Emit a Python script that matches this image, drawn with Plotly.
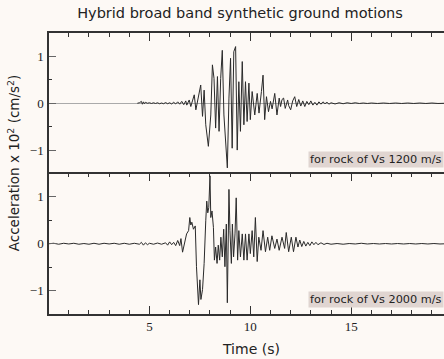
import plotly.graph_objects as go

# ---------------- data ----------------
t_top = [4.4, 4.5, 4.6, 4.65, 4.7, 4.75, 4.8, 4.9, 5.0, 5.1, 5.2, 5.3, 5.4, 5.5, 5.6, 5.7,
         5.8, 5.9, 6.0, 6.1, 6.2, 6.3, 6.4, 6.5, 6.6, 6.7, 6.8, 6.85, 6.97, 7.05, 7.13, 7.22,
         7.30, 7.38, 7.46, 7.54, 7.63, 7.71, 7.79, 7.92, 8.04, 8.12, 8.20, 8.28, 8.37, 8.45,
         8.53, 8.61, 8.69, 8.78, 8.86, 8.94, 9.02, 9.10, 9.18, 9.27, 9.35, 9.43, 9.51, 9.60,
         9.68, 9.76, 9.84, 9.93, 10.0, 10.09, 10.16, 10.22, 10.34, 10.43, 10.55, 10.63, 10.71,
         10.8, 10.9, 11.0, 11.08, 11.21, 11.32, 11.43, 11.5, 11.57, 11.65, 11.73, 11.85, 11.9,
         12.0, 12.1, 12.2, 12.3, 12.4, 12.5, 12.6, 12.7, 12.8, 12.9, 13.0, 13.1, 13.2, 13.3,
         13.4, 13.5, 13.6, 13.7, 13.8, 13.9, 14.0, 14.2, 14.4, 14.6, 14.8, 15.0, 15.2, 15.4,
         15.6, 15.8, 16.0, 16.3, 16.6, 16.9, 17.2, 17.5, 17.8, 18.1, 18.4, 18.7, 19.0, 19.3, 19.7]
a_top = [0.0, 0.01, 0.04, -0.02, 0.03, -0.01, 0.02, 0.0, 0.01, -0.005, 0.01, -0.005, 0.01, -0.01, 0.005, -0.01,
         0.015, -0.01, 0.01, -0.015, 0.02, -0.015, 0.03, -0.02, 0.04, -0.03, 0.05, -0.04, 0.07, -0.07, 0.05, 0.18,
         -0.14, 0.05, 0.22, 0.39, -0.28, 0.28, -0.46, -0.92, -0.25, 0.82, 0.53, -0.53, 0.57, -0.60,
         0.53, 1.13, -0.25, -0.82, -1.38, 0.11, 0.96, -0.96, 1.10, 1.21, -1.0, 0.46, -0.60, 0.89,
         -0.46, 0.46, -0.39, 0.43, -0.35, 0.25, -0.10, -0.25, 0.21, -0.21, 0.25, 0.60, -0.35,
         0.14, -0.18, 0.04, -0.12, 0.21, -0.25, 0.11, -0.07, 0.08, 0.11, -0.11, 0.07, -0.05,
         -0.14, 0.05, 0.14, -0.07, 0.08, -0.06, 0.05, -0.07, 0.04, -0.03, 0.05, -0.04, 0.02, -0.04,
         0.03, -0.02, 0.03, -0.01, 0.02, -0.02, 0.01, -0.015, 0.01, -0.01, 0.01, -0.005, 0.01, -0.005,
         0.005, -0.005, 0.005, -0.005, 0.005, -0.005, 0.005, -0.005, 0.005, -0.005, 0.005, -0.005, 0.005, -0.005, 0.0]

t_bot = [0.0, 0.25, 0.5, 0.75, 1.0, 1.25, 1.5, 1.75, 2.0, 2.25, 2.5, 2.75, 3.0, 3.25, 3.5, 3.75,
         4.0, 4.25, 4.5, 4.6, 4.7, 4.8, 4.9, 5.0, 5.2, 5.4, 5.6, 5.8, 5.9, 6.0, 6.1, 6.2, 6.3,
         6.4, 6.5, 6.56, 6.64, 6.72, 6.84, 6.94, 7.0, 7.05, 7.1, 7.18, 7.27, 7.33, 7.38, 7.43,
         7.50, 7.55, 7.63, 7.71, 7.79, 7.84, 7.89, 7.94, 8.0, 8.04, 8.10, 8.17, 8.22, 8.28, 8.35,
         8.41, 8.48, 8.54, 8.61, 8.68, 8.74, 8.81, 8.86, 8.91, 8.94, 8.99, 9.06, 9.11, 9.17, 9.24,
         9.30, 9.37, 9.43, 9.51, 9.60, 9.68, 9.76, 9.84, 9.93, 10.0, 10.09, 10.17, 10.25, 10.34,
         10.42, 10.53, 10.63, 10.75, 10.86, 10.96, 11.07, 11.21, 11.32, 11.43, 11.57, 11.70, 11.78,
         11.90, 12.03, 12.14, 12.26, 12.36, 12.45, 12.55, 12.65, 12.75, 12.85, 12.95, 13.05, 13.15,
         13.25, 13.35, 13.5, 13.65, 13.8, 14.0, 14.3, 14.6, 14.9, 15.2, 15.5, 15.8, 16.1, 16.4,
         16.7, 17.0, 17.3, 17.6, 17.9, 18.2, 18.5, 18.8, 19.1, 19.4, 19.7]
a_bot = [0.0, 0.01, -0.01, 0.01, -0.005, 0.01, -0.01, 0.005, -0.01, 0.01, -0.01, 0.01, -0.005, 0.01, -0.01, 0.01,
         -0.01, 0.01, -0.01, 0.03, -0.03, 0.02, -0.02, 0.01, -0.01, 0.015, -0.01, 0.02, -0.03, 0.04, -0.02, 0.03, -0.04,
         0.07, -0.04, 0.11, -0.18, -0.03, 0.21, 0.28, 0.56, 0.40, 0.46, 0.31, 0.38, -0.49, -1.02, -1.30,
         -0.77, -1.19, -0.98, -0.42, 0.49, 0.91, 0.66, 0.77, 1.45, 0.56, 0.70, 0.35, -0.35, -0.07, -0.42,
         -0.03, -0.35, 0.14, -0.28, 0.31, -0.49, 0.42, -1.26, 0.63, 1.16, 0.28, -0.42, 0.42, -0.28, 0.21,
         0.98, -0.35, 0.28, -0.28, 0.21, -0.35, 0.21, -0.35, 0.21, -0.21, 0.28, -0.28, 0.56, -0.38,
         0.14, -0.14, 0.28, -0.17, 0.14, -0.14, 0.17, -0.10, 0.10, -0.14, 0.14, -0.10, 0.24,
         -0.17, 0.14, -0.17, 0.14, -0.07, 0.08, -0.06, 0.05, -0.05, 0.03, -0.04, 0.04, -0.02,
         0.03, -0.02, 0.02, -0.015, 0.01, -0.01, 0.005, -0.01, 0.005, -0.005, 0.01, -0.005, 0.005, -0.005,
         0.005, -0.005, 0.005, -0.005, 0.005, -0.005, 0.005, -0.005, 0.005, -0.005, 0.0]

labels = ["for rock of Vs 1200 m/s", "for rock of Vs 2000 m/s"]
title_text = "Hybrid broad band synthetic ground motions"
x_title = "Time (s)"
y_title = "Acceleration x 10<sup>2</sup> (cm/s<sup>2</sup>)"

# ---------------- figure ----------------
BG = "#fdf9f5"
LINE = "#2a2a2a"
AX = "#333333"
fig = go.Figure()
fig.add_trace(go.Scatter(x=t_top, y=a_top, mode="lines", line=dict(color=LINE, width=1),
                         xaxis="x", yaxis="y", showlegend=False))
fig.add_trace(go.Scatter(x=t_bot, y=a_bot, mode="lines", line=dict(color=LINE, width=1),
                         xaxis="x2", yaxis="y2", showlegend=False))

tickfont = dict(family="Liberation Serif", size=13, color="#222")
xcommon = dict(range=[0.02, 19.6], showgrid=False, zeroline=False, showline=True,
               linecolor=AX, linewidth=1.5, ticks="inside", tick0=0, dtick=5,
               ticklen=8, tickcolor=AX, tickwidth=1,
               minor=dict(ticks="inside", dtick=1, ticklen=4, tickcolor=AX, tickwidth=1),
               tickfont=tickfont)
ycommon = dict(range=[-1.5, 1.5], showgrid=False, showline=True, linecolor=AX, linewidth=1.5,
               ticks="inside", tick0=0, dtick=1, ticklen=7, tickcolor="#666", tickwidth=1,
               minor=dict(ticks="inside", dtick=0.5, ticklen=3, tickcolor=AX, tickwidth=1),
               mirror=False, tickfont=tickfont, ticklabelstandoff=1)

fig.update_layout(
    width=444, height=359,
    margin=dict(l=49, r=0, t=32.5, b=45),
    paper_bgcolor=BG, plot_bgcolor=BG,
    title=dict(text=title_text, x=240/444, xanchor="center", xref="container",
               y=1 - 13/359, yanchor="middle", yref="container",
               font=dict(family="DejaVu Sans", size=14.5, color="#222")),
    xaxis=dict(xcommon, anchor="y", side="top", showticklabels=False, mirror=False),
    yaxis=dict(ycommon, domain=[0.5, 1], anchor="x", zeroline=True, zerolinecolor="#aaaaaa",
               zerolinewidth=1),
    xaxis2=dict(xcommon, anchor="y2", side="bottom", mirror="ticks"),
    yaxis2=dict(ycommon, domain=[0, 0.5], anchor="x2", zeroline=False),
    font=dict(family="DejaVu Sans", color="#222"),
)

for lab, yref in zip(labels, ["y domain", "y2 domain"]):
    fig.add_annotation(text=lab, xref="paper", x=1, xanchor="right", yref=yref, y=0.04,
                       yanchor="bottom", showarrow=False, bgcolor="#e0d5d1", borderpad=1,
                       font=dict(family="DejaVu Sans", size=11.3, color="#222"))

fig.add_annotation(text=x_title, xref="paper", x=(251-49)/395, xanchor="center",
                   yref="paper", y=-(349-314)/281.5, yanchor="middle", showarrow=False,
                   font=dict(family="DejaVu Sans", size=14, color="#222"))
fig.add_annotation(text=y_title, textangle=-90, xref="paper", x=-(49-14)/395, xanchor="center",
                   yref="paper", y=(314-163)/281.5, yanchor="middle", showarrow=False,
                   font=dict(family="DejaVu Sans", size=13.5, color="#222"))

fig.write_html("out.html")
